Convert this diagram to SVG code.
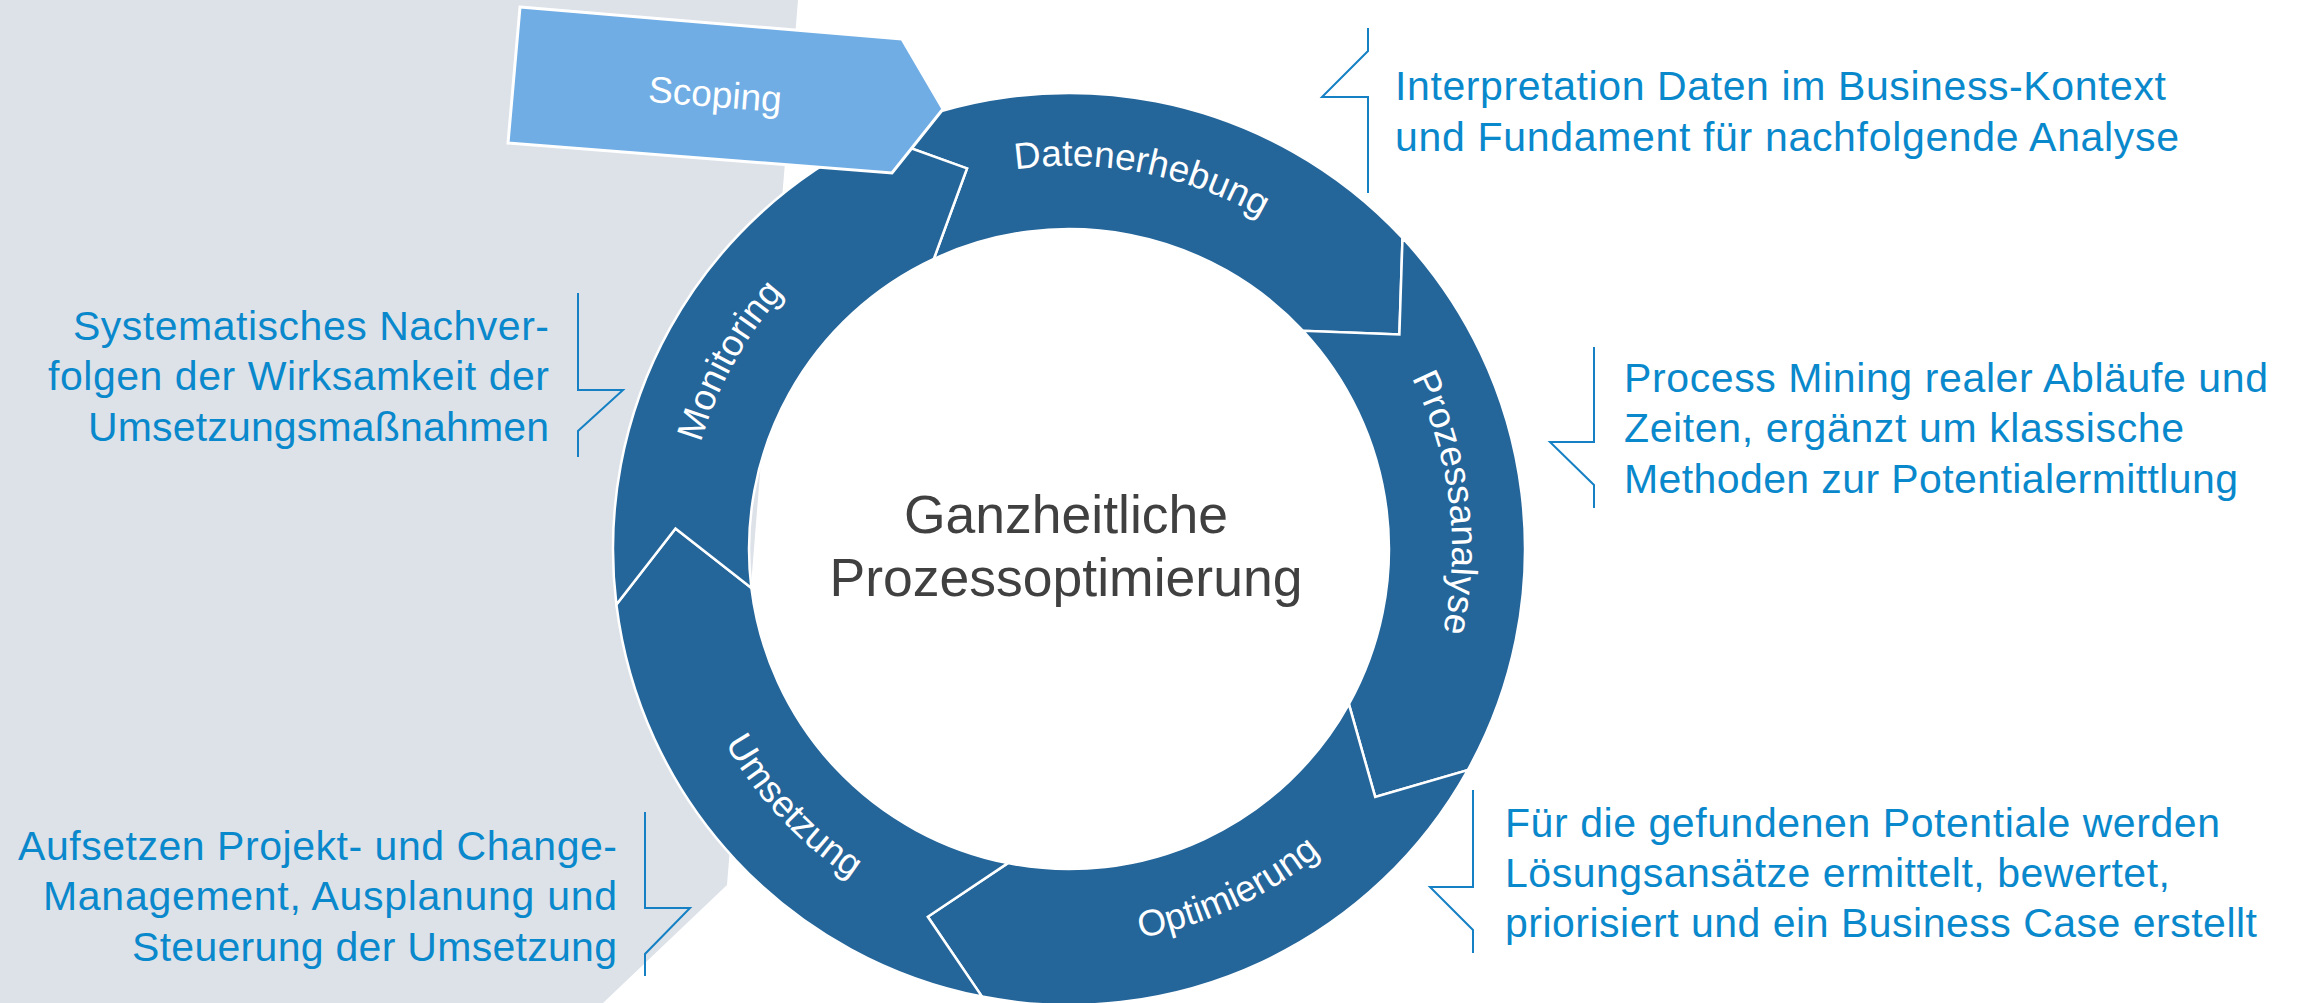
<svg xmlns="http://www.w3.org/2000/svg" width="2297" height="1003" viewBox="0 0 2297 1003">
<style>
.seg{fill:#24659a;stroke:#ffffff;stroke-width:2.5;stroke-linejoin:miter}
.lbl{font-family:"Liberation Sans",Arial,sans-serif;font-size:37px;fill:#ffffff}
.desc{font-family:"Liberation Sans",Arial,sans-serif;font-size:41px;fill:#0a88cc}
.br{fill:none;stroke:#1581c4;stroke-width:2}
.center{font-family:"Liberation Sans",Arial,sans-serif;font-size:53.5px;fill:#404040;text-anchor:middle}
</style>
<defs>
<path id="pDat" d="M700.8,443.4 A383,383 0 0 1 1449.9,589.0"/>
<path id="pPro" d="M1055.6,166.2 A383,383 0 0 1 1148.6,923.6"/>
<path id="pMon" d="M854.8,866.5 A383,383 0 0 1 1224.8,199.1"/>
<path id="pOpt" d="M726.9,746.5 A395,395 0 0 0 1440.2,413.9"/>
<path id="pUms" d="M775.5,284.7 A395,395 0 0 0 1312.2,860.3"/>
</defs>
<rect x="0" y="0" width="2297" height="1003" fill="#ffffff"/>
<polygon id="background" points="0,0 798,0 727,885 603,1003 0,1003" fill="#dde2e9"/>

<g id="datenerhebung">
<path class="seg" d="M876.3,135.7 A456,456 0 0 1 1402.5,238.0 L1399.4,334.4 L1303.0,330.8 A320,320 0 0 0 933.8,259.0 L967.0,168.4 Z"/>
<text class="lbl"><textPath href="#pDat" startOffset="50%" text-anchor="middle">Datenerhebung</textPath></text>
</g>
<g id="prozessanalyse">
<path class="seg" d="M1402.5,238.0 A456,456 0 0 1 1467.8,770.1 L1375.2,796.9 L1348.9,704.1 A320,320 0 0 0 1303.0,330.8 L1399.4,334.4 Z"/>
<text class="lbl"><textPath href="#pPro" startOffset="50%" text-anchor="middle">Prozessanalyse</textPath></text>
</g>
<g id="optimierung">
<path class="seg" d="M1467.8,770.1 A456,456 0 0 1 982.0,996.6 L927.8,916.8 L1007.9,863.1 A320,320 0 0 0 1348.9,704.1 L1375.2,796.9 Z"/>
<text class="lbl"><textPath href="#pOpt" startOffset="50%" text-anchor="middle">Optimierung</textPath></text>
</g>
<g id="umsetzung">
<path class="seg" d="M982.0,996.6 A456,456 0 0 1 616.4,604.6 L675.5,528.4 L751.4,588.0 A320,320 0 0 0 1007.9,863.1 L927.8,916.8 Z"/>
<text class="lbl"><textPath href="#pUms" startOffset="50%" text-anchor="middle">Umsetzung</textPath></text>
</g>
<g id="monitoring">
<path class="seg" d="M616.4,604.6 A456,456 0 0 1 876.3,135.7 L967.0,168.4 L933.8,259.0 A320,320 0 0 0 751.4,588.0 L675.5,528.4 Z"/>
<text class="lbl"><textPath href="#pMon" startOffset="50%" text-anchor="middle">Monitoring</textPath></text>
</g>

<g id="scoping">
<polygon points="520,7 902,39 943,109 892,173 508,143" fill="#70ade4" stroke="#ffffff" stroke-width="3" stroke-linejoin="miter"/>
<text class="lbl" x="715" y="107" text-anchor="middle" transform="rotate(4.5 715 95)">Scoping</text>
</g>

<g id="center">
<text class="center" x="1066" y="533">Ganzheitliche</text>
<text class="center" x="1066" y="596">Prozessoptimierung</text>
</g>

<g id="connectors">
<path class="br" d="M1368,28 V51 L1322,97 H1368 V193"/>
<path class="br" d="M1594,347 V442 H1550 L1594,485 V508"/>
<path class="br" d="M1473,790 V887 H1430 L1473,930 V953"/>
<path class="br" d="M578,293 V390 H623 L578,431 V457"/>
<path class="br" d="M645,812 V908 H690 L645,954 V976"/>
</g>

<g id="desc-datenerhebung">
<text class="desc" x="1395" y="100" textLength="771">Interpretation Daten im Business-Kontext</text>
<text class="desc" x="1395" y="151" textLength="784">und Fundament für nachfolgende Analyse</text>
</g>
<g id="desc-prozessanalyse">
<text class="desc" x="1624" y="392" textLength="644">Process Mining realer Abläufe und</text>
<text class="desc" x="1624" y="442" textLength="560">Zeiten, ergänzt um klassische</text>
<text class="desc" x="1624" y="493" textLength="614">Methoden zur Potentialermittlung</text>
</g>
<g id="desc-optimierung">
<text class="desc" x="1505" y="837" textLength="715">Für die gefundenen Potentiale werden</text>
<text class="desc" x="1505" y="887" textLength="665">Lösungsansätze ermittelt, bewertet,</text>
<text class="desc" x="1505" y="937" textLength="752">priorisiert und ein Business Case erstellt</text>
</g>
<g id="desc-monitoring">
<text class="desc" x="73" y="340" textLength="476">Systematisches Nachver-</text>
<text class="desc" x="48" y="390" textLength="501">folgen der Wirksamkeit der</text>
<text class="desc" x="88" y="441" textLength="461">Umsetzungsmaßnahmen</text>
</g>
<g id="desc-umsetzung">
<text class="desc" x="18" y="860" textLength="599">Aufsetzen Projekt- und Change-</text>
<text class="desc" x="43" y="910" textLength="574">Management, Ausplanung und</text>
<text class="desc" x="132" y="961" textLength="485">Steuerung der Umsetzung</text>
</g>
</svg>
